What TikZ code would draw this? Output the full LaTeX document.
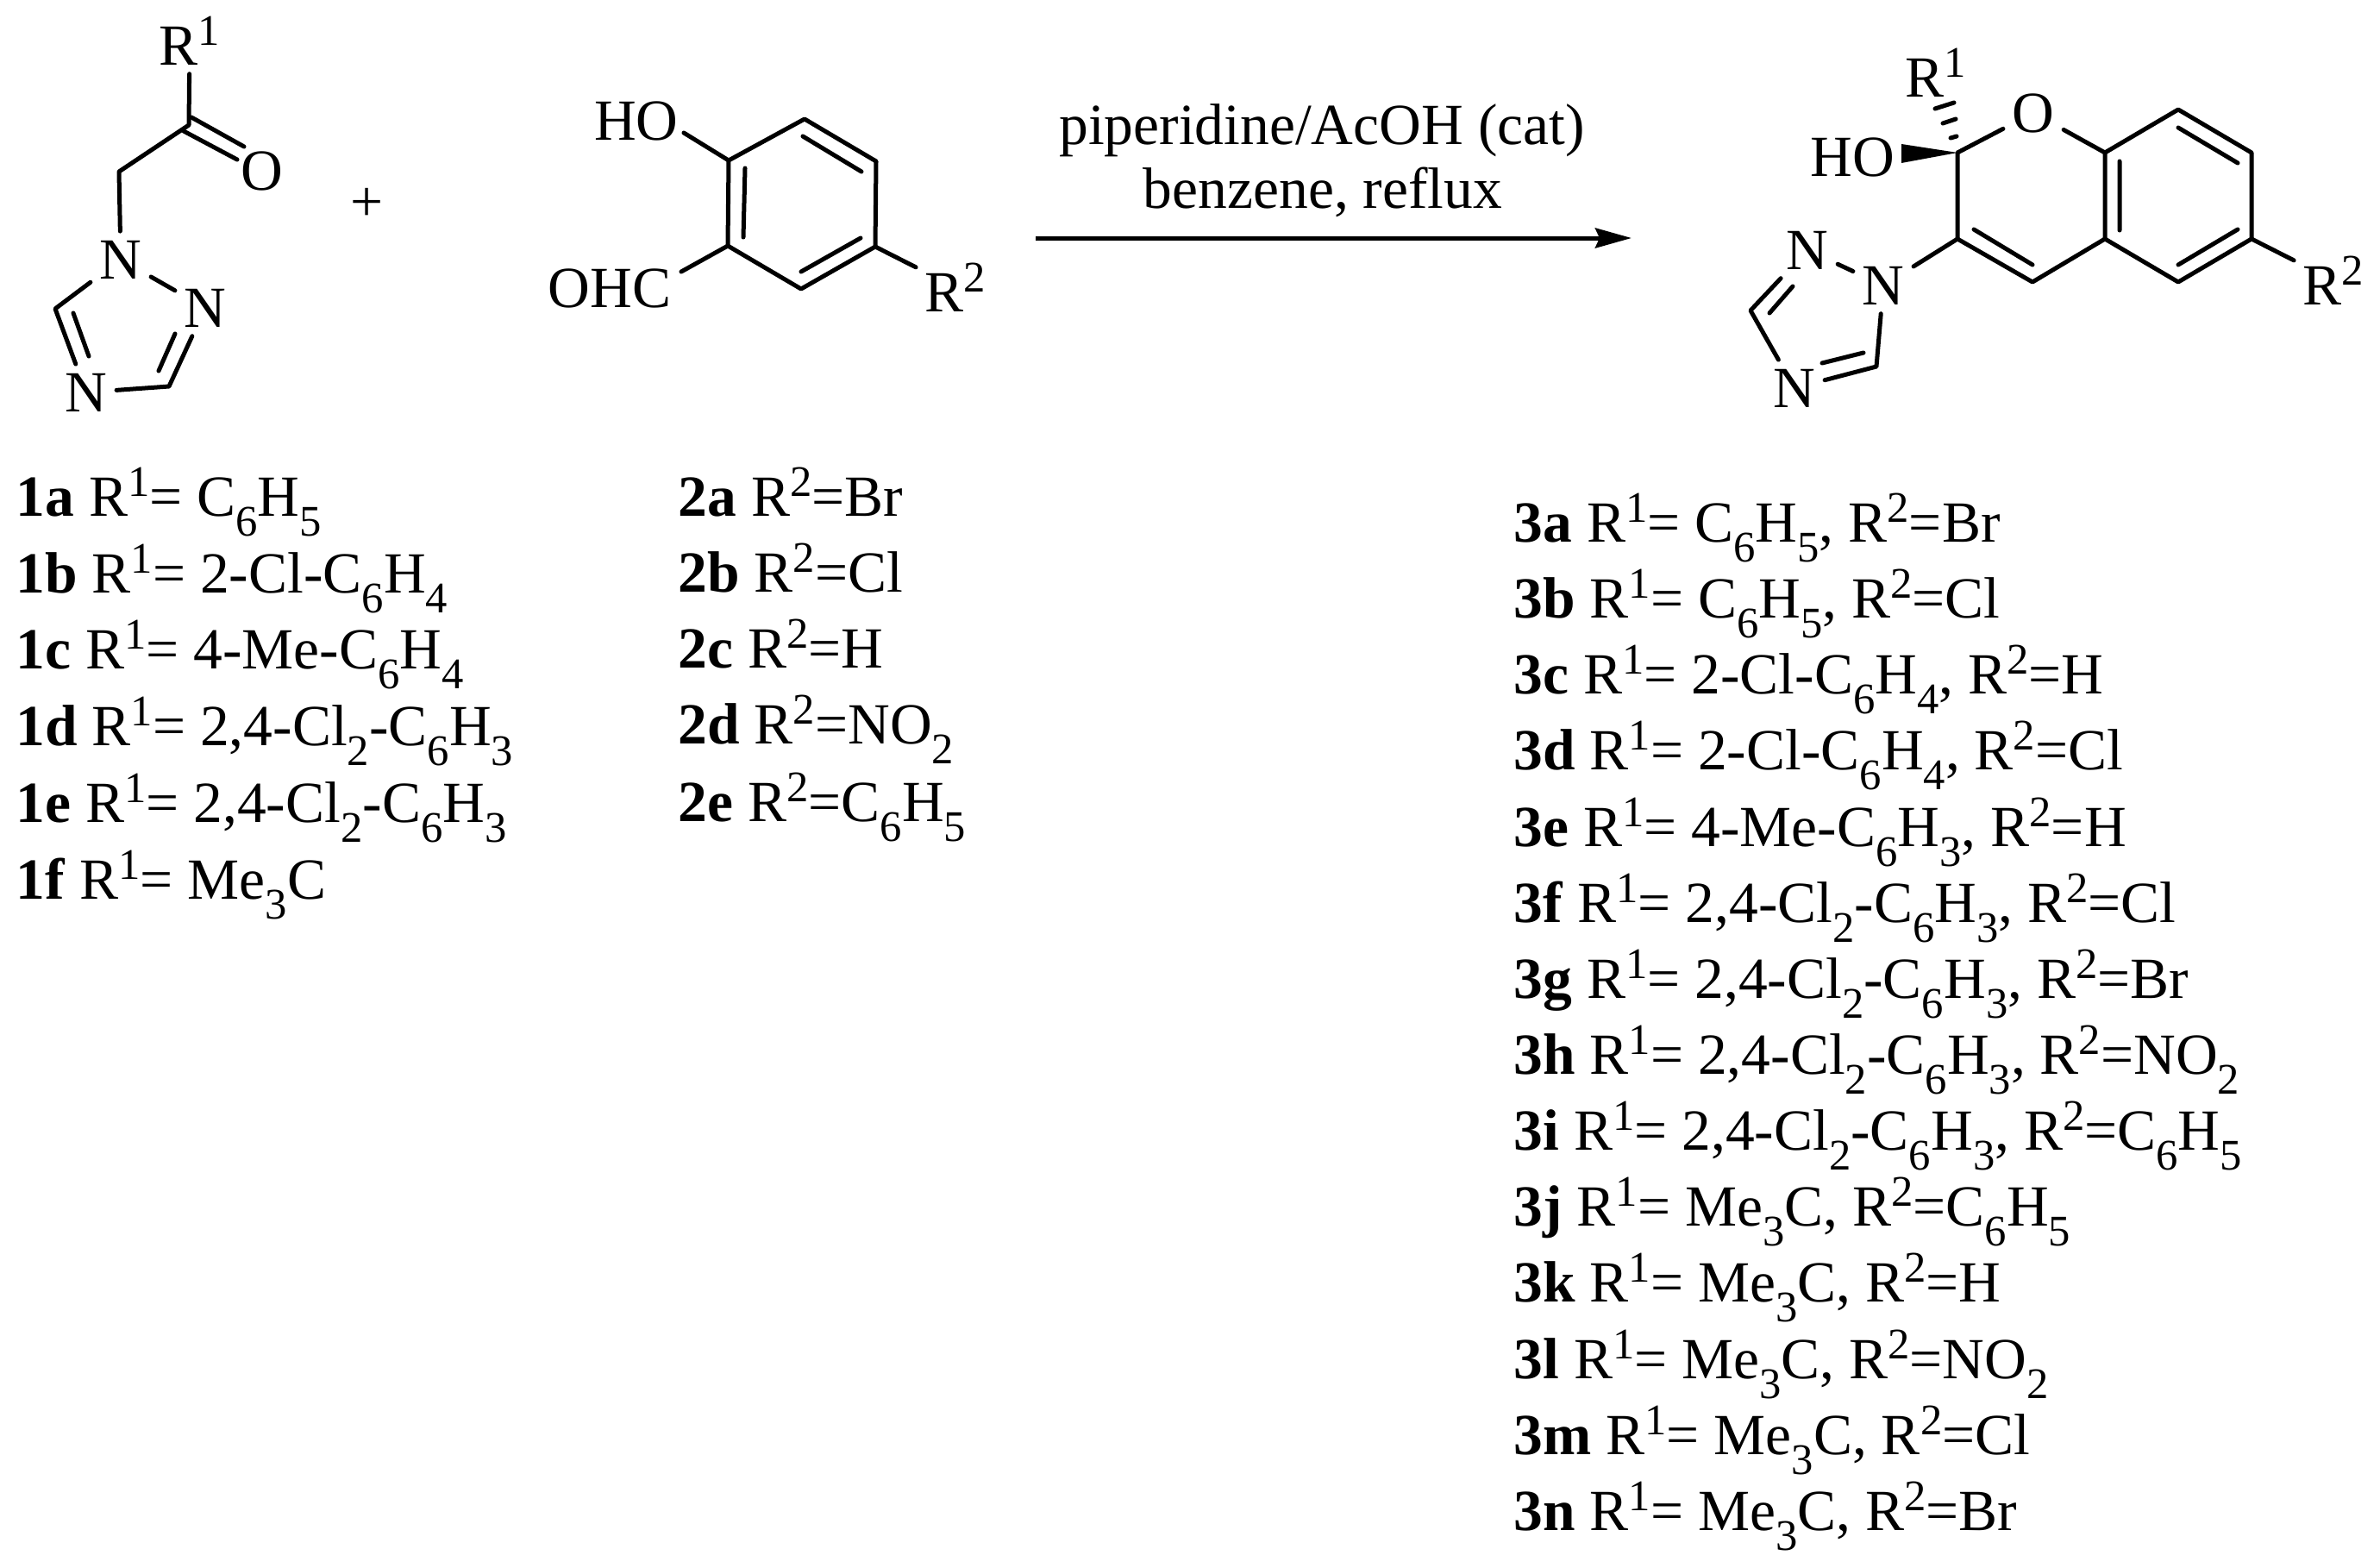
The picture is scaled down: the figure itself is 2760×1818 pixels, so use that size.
\documentclass[tikz,border=0pt]{standalone}
\usepackage{fontspec}
\setmainfont{Liberation Serif}[Ligatures=NoCommon]
\usetikzlibrary{arrows.meta}

\begin{document}
\begin{tikzpicture}[x=0.01cm,y=-0.01cm,
    bond/.style={line width=.05cm,line cap=round,line join=round},
    atom/.style={anchor=base,inner sep=.1cm},
    entry/.style={anchor=base west,inner sep=0},
    every node/.style={font=\fontsize{19.2}{22}\selectfont}]
    \providecommand{\supnum}[1]{\raisebox{.33em}{\fontsize{14.4}{16}\selectfont #1}}
    \providecommand{\subnum}[1]{\raisebox{-.35em}{\fontsize{14.4}{16}\selectfont #1}}
    \useasboundingbox (0,0) rectangle (2760,1818);
    % triazolyl ketone
    \node[atom] (ra) at (220,75) {R\supnum{1}};
    \node[atom] (oa) at (304,220) {O};
    \node[atom] (na) at (140,323) {N};
    \node[atom] (nb) at (238,379) {N};
    \node[atom] (nc) at (100,477) {N};
    \coordinate (ca) at (219,145);
    \coordinate (cb) at (138,199);
    \coordinate (cc) at (64,358);
    \coordinate (cd) at (196,448);
    \draw[bond] (ra) -- (ca) -- (cb) -- (na);
    \draw[bond] (213,152) -- (275,185) (222,136) -- (283,170);
    \draw[bond] (na) -- (cc) -- (nc) (nc) -- (cd) -- (nb) (nb) -- (na);
    \draw[bond] (85,363) -- (103,413) (184,430) -- (203,387);
    \node (plus) at (426,237) {+};
    % salicylaldehyde
    \node[atom] (hoa) at (738,162) {HO};
    \node[atom] (ohc) at (707,356) {OHC};
    \node[atom] (rb) at (1108,361) {R\supnum{2}};
    \coordinate (sa) at (933,138);
    \coordinate (sb) at (1016,187);
    \coordinate (sc) at (1015,286);
    \coordinate (sd) at (929,335);
    \coordinate (se) at (844,285);
    \coordinate (sf) at (845,186);
    \coordinate (hoend) at (793,154);
    \coordinate (ohcend) at (790,315);
    \draw[bond] (sa) -- (sb) -- (sc) -- (sd) -- (se) -- (sf) -- cycle;
    \draw[bond] (931,158) -- (999,199) (929,315) -- (998,276) (864,195) -- (862,275);
    \draw[bond] (sf) -- (hoend) (se) -- (ohcend) (sc) -- (rb);
    % reaction arrow
    \coordinate (arrowstart) at (1201,276);
    \coordinate (arrowend) at (1892,276);
    \draw[line width=.05cm,-{Stealth[length=.42cm,width=.23cm,inset=.05cm]}] (arrowstart) -- (arrowend);
    \node[anchor=base] (reagent) at (1533,167) {piperidine/AcOH (cat)};
    \node[anchor=base] (solvent) at (1534,241) {benzene, reflux};
    % chromenol
    \node[atom] (rc) at (2245,112) {R\supnum{1}};
    \node[atom] (ob) at (2358,153) {O};
    \node[atom] (hob) at (2148,204) {HO};
    \node[atom] (rd) at (2706,353) {R\supnum{2}};
    \node[atom] (nd) at (2096,312) {N};
    \node[atom] (ne) at (2184,353) {N};
    \node[atom] (nf) at (2081,472) {N};
    \coordinate (ua) at (2270,177);
    \coordinate (ub) at (2270,277);
    \coordinate (uc) at (2357,327);
    \coordinate (ud) at (2441,277);
    \coordinate (ue) at (2441,177);
    \coordinate (uf) at (2526,127);
    \coordinate (ug) at (2611,177);
    \coordinate (uh) at (2611,277);
    \coordinate (ui) at (2526,327);
    \coordinate (uj) at (2030,360);
    \coordinate (uk) at (2176,425);
    \coordinate (wedgea) at (2205,167);
    \coordinate (wedgeb) at (2205,189);
    \draw[bond] (ob) -- (ua) -- (ub) -- (uc) -- (ud) -- (ue) -- (ob);
    \draw[bond] (ue) -- (uf) -- (ug) -- (uh) -- (ui) -- (ud);
    \draw[bond] (2458,187) -- (2458,267) (2526,148) -- (2595,189) (2595,266) -- (2526,307) (2289,266) -- (2357,307);
    \draw[bond] (uh) -- (rd) (ub) -- (ne) (ne) -- (nd) (nd) -- (uj) -- (nf) (nf) -- (uk) -- (ne);
    \draw[bond] (2079,332) -- (2052,363) (2113,421) -- (2161,409);
    \fill (ua) -- (wedgea) -- (wedgeb) -- cycle;
    \draw[bond] (2262,160) -- (2269,158) (2253,143) -- (2268,138) (2244,126) -- (2266,119);
    % substituents
    \node[entry] (ia) at (18,598) {\textbf{1a} R\supnum{1}= C\subnum{6}H\subnum{5}};
    \node[entry] (ib) at (18,687) {\textbf{1b} R\supnum{1}= 2-Cl-C\subnum{6}H\subnum{4}};
    \node[entry] (ic) at (18,775) {\textbf{1c} R\supnum{1}= 4-Me-C\subnum{6}H\subnum{4}};
    \node[entry] (id) at (18,864) {\textbf{1d} R\supnum{1}= 2,4-Cl\subnum{2}-C\subnum{6}H\subnum{3}};
    \node[entry] (ie) at (18,953) {\textbf{1e} R\supnum{1}= 2,4-Cl\subnum{2}-C\subnum{6}H\subnum{3}};
    \node[entry] (if) at (18,1042) {\textbf{1f} R\supnum{1}= Me\subnum{3}C};
    \node[entry] (iia) at (786,598) {\textbf{2a} R\supnum{2}=Br};
    \node[entry] (iib) at (786,686) {\textbf{2b} R\supnum{2}=Cl};
    \node[entry] (iic) at (786,774) {\textbf{2c} R\supnum{2}=H};
    \node[entry] (iid) at (786,862) {\textbf{2d} R\supnum{2}=NO\subnum{2}};
    \node[entry] (iie) at (786,952) {\textbf{2e} R\supnum{2}=C\subnum{6}H\subnum{5}};
    \node[entry] (iiia) at (1755,628) {\textbf{3a} R\supnum{1}= C\subnum{6}H\subnum{5}, R\supnum{2}=Br};
    \node[entry] (iiib) at (1755,716) {\textbf{3b} R\supnum{1}= C\subnum{6}H\subnum{5}, R\supnum{2}=Cl};
    \node[entry] (iiic) at (1755,804) {\textbf{3c} R\supnum{1}= 2-Cl-C\subnum{6}H\subnum{4}, R\supnum{2}=H};
    \node[entry] (iiid) at (1755,892) {\textbf{3d} R\supnum{1}= 2-Cl-C\subnum{6}H\subnum{4}, R\supnum{2}=Cl};
    \node[entry] (iiie) at (1755,981) {\textbf{3e} R\supnum{1}= 4-Me-C\subnum{6}H\subnum{3}, R\supnum{2}=H};
    \node[entry] (iiif) at (1755,1069) {\textbf{3f} R\supnum{1}= 2,4-Cl\subnum{2}-C\subnum{6}H\subnum{3}, R\supnum{2}=Cl};
    \node[entry] (iiig) at (1755,1157) {\textbf{3g} R\supnum{1}= 2,4-Cl\subnum{2}-C\subnum{6}H\subnum{3}, R\supnum{2}=Br};
    \node[entry] (iiih) at (1755,1245) {\textbf{3h} R\supnum{1}= 2,4-Cl\subnum{2}-C\subnum{6}H\subnum{3}, R\supnum{2}=NO\subnum{2}};
    \node[entry] (iiii) at (1755,1333) {\textbf{3i} R\supnum{1}= 2,4-Cl\subnum{2}-C\subnum{6}H\subnum{3}, R\supnum{2}=C\subnum{6}H\subnum{5}};
    \node[entry] (iiij) at (1755,1421) {\textbf{3j} R\supnum{1}= Me\subnum{3}C, R\supnum{2}=C\subnum{6}H\subnum{5}};
    \node[entry] (iiik) at (1755,1509) {\textbf{3k} R\supnum{1}= Me\subnum{3}C, R\supnum{2}=H};
    \node[entry] (iiil) at (1755,1598) {\textbf{3l} R\supnum{1}= Me\subnum{3}C, R\supnum{2}=NO\subnum{2}};
    \node[entry] (iiim) at (1755,1686) {\textbf{3m} R\supnum{1}= Me\subnum{3}C, R\supnum{2}=Cl};
    \node[entry] (iiin) at (1755,1774) {\textbf{3n} R\supnum{1}= Me\subnum{3}C, R\supnum{2}=Br};
\end{tikzpicture}
\end{document}
